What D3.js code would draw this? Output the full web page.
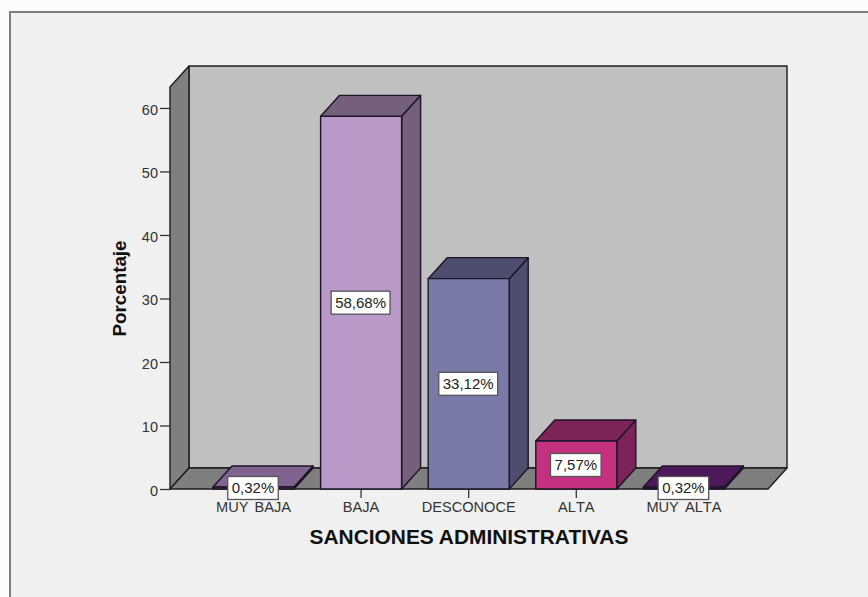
<!DOCTYPE html>
<html>
<head>
<meta charset="utf-8">
<script src="https://cdn.jsdelivr.net/npm/d3@7"></script>
<style>
  html, body { margin: 0; padding: 0; background: #fbfbfb; }
  svg { display: block; }
  text { font-family: "Liberation Sans", Arial, sans-serif; }
</style>
</head>
<body>
<svg id="chart" width="868" height="597"></svg>
<script>
// Survey results: share of answers per category
const categories = ["MUY BAJA", "BAJA", "DESCONOCE", "ALTA", "MUY ALTA"];
const percentages = [0.32, 58.68, 33.12, 7.57, 0.32];
const valueLabels = ["0,32%", "58,68%", "33,12%", "7,57%", "0,32%"];
const yTicks = [0, 10, 20, 30, 40, 50, 60];
const frontColors = ["#4f3a5c", "#b899c8", "#7a7aa9", "#c5307f", "#3f1448"];
const sideColors = ["#5c4769", "#75607c", "#4d4d6e", "#7c2358", "#4a1a55"];
const topColors = ["#80648f", "#75607c", "#4d4d6e", "#7c2358", "#4c1a5a"];
const ink = "#1c1c1c";

const svg = d3.select("#chart");

// Oblique offset of the 3D box
const depthX = 19, depthY = 21;

const x = d3.scaleBand().domain(categories).range([199.7, 737.7])
  .paddingInner(0.247).paddingOuter(0.1235);
const y = d3.scaleLinear().domain([0, 63.3]).range([489, 87]);

const boxLeft = 170, boxRight = 768, base = y(0), ceiling = y(63.3);
const poly = pts => pts.map(p => p.join(",")).join(" ");

// Chart panel
svg.append("rect").attr("x", 10).attr("y", 12).attr("width", 870).attr("height", 600)
  .attr("fill", "#f0f0f0").attr("stroke", "#7d7d7d").attr("stroke-width", 2);

// Box: back wall, left wall, floor
const box = svg.append("g").attr("stroke", ink).attr("stroke-width", 1.4).attr("stroke-linejoin", "round");
box.append("polygon")
  .attr("points", poly([[boxLeft + depthX, ceiling - depthY], [boxRight + depthX, ceiling - depthY], [boxRight + depthX, base - depthY], [boxLeft + depthX, base - depthY]]))
  .attr("fill", "#c0c0c0");
box.append("polygon")
  .attr("points", poly([[boxLeft, ceiling], [boxLeft + depthX, ceiling - depthY], [boxLeft + depthX, base - depthY], [boxLeft, base]]))
  .attr("fill", "#7f7f7f");
box.append("polygon")
  .attr("points", poly([[boxLeft, base], [boxLeft + depthX, base - depthY], [boxRight + depthX, base - depthY], [boxRight, base]]))
  .attr("fill", "#7f7f7f");

// Axes sit under the bars and their value labels
const xAxis = svg.append("g").attr("transform", `translate(0,${base})`)
  .call(d3.axisBottom(x).tickSize(9).tickPadding(4).tickSizeOuter(0));
const yAxis = svg.append("g").attr("transform", `translate(${boxLeft},0)`)
  .call(d3.axisLeft(y).tickValues(yTicks).tickSize(10).tickPadding(2).tickSizeOuter(0));
[xAxis, yAxis].forEach(a => {
  a.select(".domain").remove();
  a.selectAll("line").attr("stroke", "#333").attr("stroke-width", 1.3);
  a.selectAll("text").attr("fill", "#333").style("font-size", "14.5px")
    .style("font-family", '"Liberation Sans", Arial, sans-serif');
});
xAxis.selectAll("text").style("font-size", "14.6px").style("font-kerning", "none").style("word-spacing", "2px");
yAxis.selectAll("text").attr("dy", "0.44em");

// 3D bars
const rows = categories.map((c, i) => ({ c, i, v: percentages[i], label: valueLabels[i] }));
const bars = svg.append("g").selectAll("g").data(rows).join("g")
  .attr("stroke", "#1e1428").attr("stroke-width", 1.4).attr("stroke-linejoin", "round");
bars.append("polygon")
  .attr("points", d => { const a = x(d.c), b = a + x.bandwidth(), t = y(d.v);
    return poly([[b, t], [b + depthX, t - depthY], [b + depthX, base - depthY], [b, base]]); })
  .attr("fill", d => sideColors[d.i]);
bars.append("polygon")
  .attr("points", d => { const a = x(d.c), b = a + x.bandwidth(), t = y(d.v);
    return poly([[a, t], [a + depthX, t - depthY], [b + depthX, t - depthY], [b, t]]); })
  .attr("fill", d => topColors[d.i]);
bars.append("rect")
  .attr("x", d => x(d.c)).attr("y", d => y(d.v))
  .attr("width", x.bandwidth()).attr("height", d => base - y(d.v))
  .attr("fill", d => frontColors[d.i]);

// Value labels in white boxes, centred on the bar front
const labels = svg.append("g").selectAll("g").data(rows).join("g")
  .attr("transform", d => `translate(${x(d.c) + x.bandwidth() / 2 - 0.5},${(y(d.v) + base) / 2})`);
labels.append("text")
  .attr("text-anchor", "middle").attr("dy", "0.36em")
  .attr("fill", "#222").style("font-size", "15px").text(d => d.label);
labels.each(function () {
  const g = d3.select(this), b = g.select("text").node().getBBox();
  g.insert("rect", "text")
    .attr("x", b.x - 4).attr("y", -11.5).attr("width", b.width + 8).attr("height", 23)
    .attr("fill", "#fff").attr("stroke", "#555").attr("stroke-width", 1.3);
});

// Axis titles
svg.append("text").attr("x", 469).attr("y", 544).attr("text-anchor", "middle")
  .attr("fill", "#111").style("font-size", "20.9px").style("font-weight", "bold")
  .text("SANCIONES ADMINISTRATIVAS");
svg.append("text").attr("transform", "translate(126,288.5) rotate(-90)").attr("text-anchor", "middle")
  .attr("fill", "#111").style("font-size", "18.8px").style("font-weight", "bold")
  .text("Porcentaje");
</script>
</body>
</html>
